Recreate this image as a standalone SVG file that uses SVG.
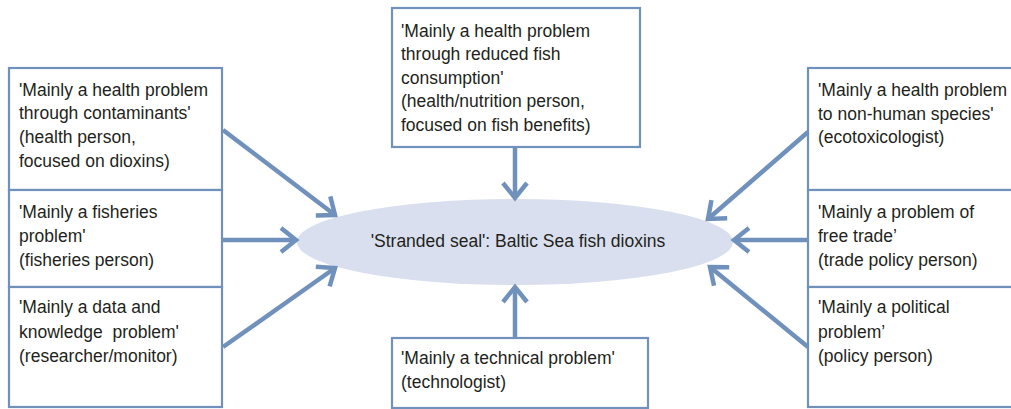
<svg xmlns="http://www.w3.org/2000/svg" width="1011" height="409" viewBox="0 0 1011 409">
<style>
.box{fill:#fff;stroke:#7191bd;stroke-width:2.2}
.t{font-family:"Liberation Sans",Arial,sans-serif;font-size:17.5px;fill:#231f20;white-space:pre}
.c{stroke:#7191bd;stroke-width:4.5;fill:none}
</style>
<defs>
<marker id="ah" markerUnits="userSpaceOnUse" markerWidth="40" markerHeight="40" viewBox="-30 -20 40 40" refX="0" refY="0" orient="auto" overflow="visible">
<path d="M-15,-12 L0,0 L-15,12" fill="none" stroke="#7191bd" stroke-width="4.5" stroke-linejoin="miter"/>
</marker>
</defs>
<rect width="1011" height="409" fill="#fff"/>
<g id="center">
<ellipse cx="515" cy="242" rx="218" ry="43" fill="#d9dfee"/>
<text class="t" x="518" y="247" text-anchor="middle">'Stranded seal': Baltic Sea fish dioxins</text>
</g>
<g id="n-top">
<rect class="box" x="392" y="8" width="248" height="139"/>
<text class="t"><tspan x="401" y="37">'Mainly a health problem</tspan><tspan x="401" y="60">through reduced fish</tspan><tspan x="401" y="84">consumption'</tspan><tspan x="401" y="107">(health/nutrition person,</tspan><tspan x="401" y="131">focused on fish benefits)</tspan></text>
</g>
<g id="n-bottom">
<rect class="box" x="392" y="338" width="256" height="70"/>
<text class="t"><tspan x="401" y="364">'Mainly a technical problem'</tspan><tspan x="401" y="388">(technologist)</tspan></text>
</g>
<g id="n-left1">
<rect class="box" x="9" y="68" width="213" height="122"/>
<text class="t"><tspan x="19" y="96">'Mainly a health problem</tspan><tspan x="19" y="119">through contaminants'</tspan><tspan x="19" y="143">(health person,</tspan><tspan x="19" y="167">focused on dioxins)</tspan></text>
</g>
<g id="n-left2">
<rect class="box" x="9" y="190" width="213" height="97"/>
<text class="t"><tspan x="19" y="218">'Mainly a fisheries</tspan><tspan x="19" y="242">problem'</tspan><tspan x="19" y="266">(fisheries person)</tspan></text>
</g>
<g id="n-left3">
<rect class="box" x="9" y="287" width="213" height="120"/>
<text class="t"><tspan x="19" y="313">'Mainly a data and</tspan><tspan x="19" y="338">knowledge  problem'</tspan><tspan x="19" y="362">(researcher/monitor)</tspan></text>
</g>
<g id="n-right1">
<rect class="box" x="808" y="68" width="210" height="122"/>
<text class="t"><tspan x="818" y="96">'Mainly a health problem</tspan><tspan x="818" y="120">to non-human species'</tspan><tspan x="818" y="143">(ecotoxicologist)</tspan></text>
</g>
<g id="n-right2">
<rect class="box" x="808" y="190" width="210" height="97"/>
<text class="t"><tspan x="818" y="218">'Mainly a problem of</tspan><tspan x="818" y="242">free trade’</tspan><tspan x="818" y="266">(trade policy person)</tspan></text>
</g>
<g id="n-right3">
<rect class="box" x="808" y="287" width="210" height="120"/>
<text class="t"><tspan x="818" y="313">'Mainly a political</tspan><tspan x="818" y="338">problem’</tspan><tspan x="818" y="362">(policy person)</tspan></text>
</g>
<g id="connectors">
<line class="c" x1="223" y1="130" x2="335" y2="215" marker-end="url(#ah)"/>
<line class="c" x1="222" y1="240" x2="296" y2="240" marker-end="url(#ah)"/>
<line class="c" x1="223" y1="347" x2="335" y2="268" marker-end="url(#ah)"/>
<line class="c" x1="808" y1="132" x2="708" y2="219" marker-end="url(#ah)"/>
<line class="c" x1="808" y1="240" x2="734" y2="240" marker-end="url(#ah)"/>
<line class="c" x1="808" y1="347" x2="710" y2="267" marker-end="url(#ah)"/>
<line class="c" x1="515" y1="147" x2="515" y2="198" marker-end="url(#ah)"/>
<line class="c" x1="515" y1="338" x2="515" y2="287" marker-end="url(#ah)"/>
</g>
</svg>
